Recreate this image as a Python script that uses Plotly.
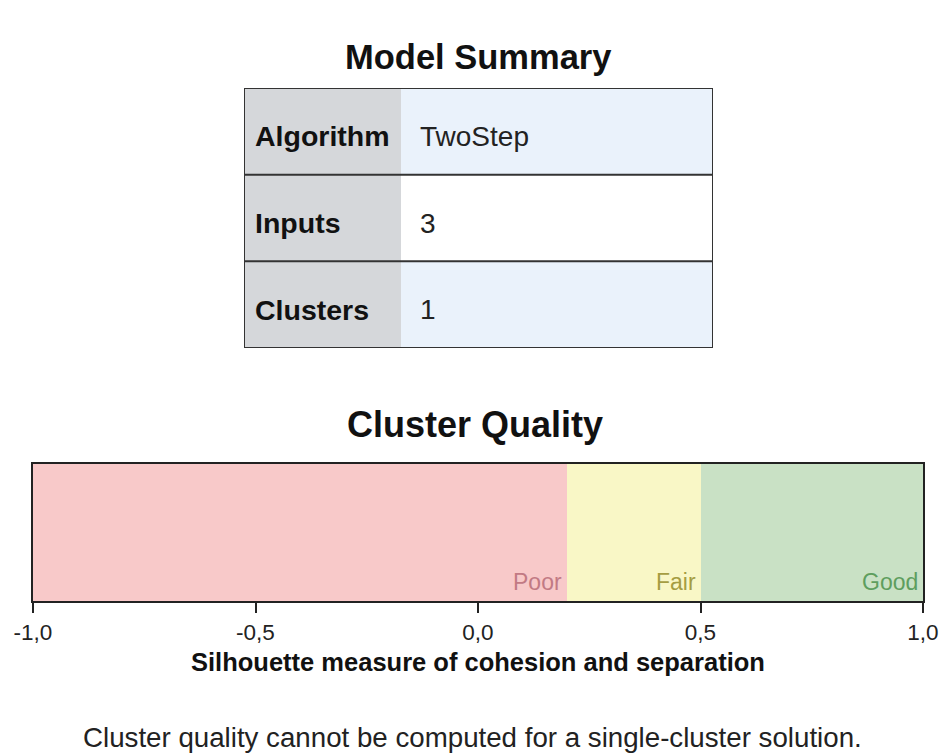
import plotly.graph_objects as go

# ---- data ----
summary_labels = ["Algorithm", "Inputs", "Clusters"]
summary_values = ["TwoStep", "3", "1"]

zone_names = ["Poor", "Fair", "Good"]
zone_bounds = [-1.0, 0.2, 0.5, 1.0]

tick_vals = [-1.0, -0.5, 0.0, 0.5, 1.0]
tick_text = ["-1,0", "-0,5", "0,0", "0,5", "1,0"]

title_top = "Model Summary"
title_mid = "Cluster Quality"
axis_title = "Silhouette measure of cohesion and separation"
footnote = "Cluster quality cannot be computed for a single-cluster solution."

# ---- styles ----
W, H = 942, 754
FONT = "Arial, Liberation Sans, sans-serif"
zone_fill = ["#f8c9c9", "#f9f7c6", "#c9e1c5"]
zone_text = ["#c27a84", "#a59d42", "#5e9e5e"]
label_fill = "#d5d7da"
row_fill = ["#eaf2fb", "#ffffff", "#eaf2fb"]
label_frac = (401 - 244) / (713 - 244)


def px_x(p):
    return p / W


def px_y(p):
    return 1 - p / H


fig = go.Figure()

# ---- cluster quality bar ----
for i, name in enumerate(zone_names):
    fig.add_trace(go.Bar(
        orientation="h", y=[0.5], x=[zone_bounds[i + 1] - zone_bounds[i]],
        base=[zone_bounds[i]], width=1, marker=dict(color=zone_fill[i], line=dict(width=0)),
        xaxis="x", yaxis="y", showlegend=False, hoverinfo="skip",
    ))
    fig.add_annotation(
        x=zone_bounds[i + 1], y=0, xref="x", yref="y", text=name, showarrow=False,
        xanchor="right", yanchor="bottom", xshift=-3, yshift=4,
        font=dict(family=FONT, size=23, color=zone_text[i]),
    )

# ---- summary table ----
n = len(summary_labels)
rows = [i + 0.5 for i in range(n)]
fig.add_trace(go.Bar(
    orientation="h", y=rows, x=[label_frac] * n, base=[0] * n, width=1,
    marker=dict(color=label_fill, line=dict(width=0)),
    xaxis="x2", yaxis="y2", showlegend=False, hoverinfo="skip",
))
fig.add_trace(go.Bar(
    orientation="h", y=rows, x=[1 - label_frac] * n, base=[label_frac] * n, width=1,
    marker=dict(color=row_fill, line=dict(width=0)),
    xaxis="x2", yaxis="y2", showlegend=False, hoverinfo="skip",
))
for i in range(n):
    fig.add_annotation(
        x=0, y=rows[i], xref="x2", yref="y2", text="<b>%s</b>" % summary_labels[i],
        showarrow=False, xanchor="left", yanchor="middle", xshift=9, yshift=-5,
        font=dict(family=FONT, size=28.5, color="#111"),
    )
    fig.add_annotation(
        x=label_frac, y=rows[i], xref="x2", yref="y2", text=summary_values[i],
        showarrow=False, xanchor="left", yanchor="middle", xshift=17, yshift=-5,
        font=dict(family=FONT, size=28, color="#222"),
    )
for k in range(1, n):
    fig.add_shape(type="line", xref="x2", yref="y2", x0=0, x1=1, y0=k, y1=k,
                  line=dict(color="#333", width=2))
fig.add_shape(type="rect", xref="x2", yref="y2", x0=0, x1=1, y0=0, y1=n,
              line=dict(color="#333", width=2))


# ---- titles ----
def paper_text(text, x, y, size, color="#111"):
    fig.add_annotation(x=px_x(x), y=px_y(y), xref="paper", yref="paper", text=text,
                       showarrow=False, xanchor="center", yanchor="middle",
                       font=dict(family=FONT, size=size, color=color))


paper_text("<b>%s</b>" % title_top, 478, 57, 34.5)
paper_text("<b>%s</b>" % title_mid, 475, 424, 36)
paper_text("<b>%s</b>" % axis_title, 478, 662, 25.5)
paper_text(footnote, 472, 737, 27.7, "#222")

fig.update_layout(
    width=W, height=H, margin=dict(l=0, r=0, t=0, b=0, autoexpand=False),
    paper_bgcolor="white", plot_bgcolor="white",
    barmode="overlay", bargap=0,
    xaxis=dict(domain=[px_x(33), px_x(923)], range=[-1, 1], tickvals=tick_vals, ticktext=tick_text,
               ticks="outside", ticklen=10, tickwidth=2, tickcolor="#222",
               showline=True, linecolor="#222", linewidth=2, mirror=True, automargin=False,
               showgrid=False, zeroline=False, fixedrange=True,
               tickfont=dict(family=FONT, size=22.5, color="#222"), anchor="y"),
    yaxis=dict(domain=[px_y(601), px_y(464)], range=[0, 1], showticklabels=False, ticks="",
               showline=True, linecolor="#222", linewidth=2, mirror=True, automargin=False,
               showgrid=False, zeroline=False, fixedrange=True, anchor="x"),
    xaxis2=dict(domain=[px_x(244), px_x(713)], range=[0, 1], visible=False, fixedrange=True,
                automargin=False, anchor="y2"),
    yaxis2=dict(domain=[px_y(348), px_y(88)], range=[n, 0], visible=False, fixedrange=True,
                automargin=False, anchor="x2"),
)

fig.write_html(
    "out.html",
    config={"displayModeBar": False},
    post_script="document.body.style.margin='0';document.body.style.overflow='hidden';",
)
